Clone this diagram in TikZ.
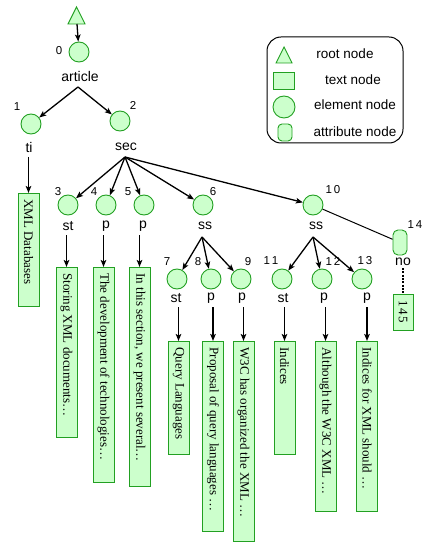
\documentclass[tikz,border=0pt]{standalone}
\usepackage{fontspec}
\setmainfont{Liberation Serif}
\setsansfont{Liberation Sans}
\usetikzlibrary{arrows.meta}
\definecolor{gfill}{RGB}{204,255,204}
\definecolor{gline}{RGB}{34,160,34}
% left-aligned text of a fixed length inside a text box
\newcommand\bxt[2]{\makebox[#1][l]{#2}}
\begin{document}
\begin{tikzpicture}[x=1pt,y=-1pt,
  shapebase/.style={draw=gline,fill=gfill,line width=0.9pt,inner sep=0pt},
  elem/.style={shapebase,circle,minimum size=20pt},
  attrn/.style={shapebase,rectangle,rounded corners=5pt,minimum width=14pt,minimum height=25pt},
  tbox/.style={shapebase,rectangle,rotate=-90,anchor=west,minimum height=21pt,
               inner xsep=6pt,font=\fontsize{13}{14}\selectfont},
  lbl/.style={font=\sffamily\fontsize{14}{16}\selectfont,inner sep=0pt},
  num/.style={font=\sffamily\fontsize{11.5}{13}\selectfont,inner sep=0pt},
  leg/.style={font=\sffamily\fontsize{13.5}{15}\selectfont,inner sep=0pt},
  arr/.style={-{Stealth[length=7pt,width=5.5pt,inset=1.5pt]},line width=1.3pt},
]
\useasboundingbox (0,0) rectangle (421,545);

% ---------- root ----------
\draw[shapebase] (68,24) -- (76.5,7) -- (85,24) -- cycle;
\coordinate (root) at (77,24);
\node[elem] (n0) at (79,52) {};
\node[num] (i0) at (59,51) {0};
\node[lbl] (t0) at (80,76) {article};
\coordinate (s0) at (78,87);
\draw[arr] (root) -- (n0);

% ---------- level 1 ----------
\node[elem] (n1) at (31,124) {};
\node[elem] (n2) at (120,121) {};
\node[num] (i1) at (17,107) {1};
\node[num] (i2) at (133,105) {2};
\node[lbl] (t1) at (29,147) {ti};
\node[lbl] (t2) at (126,147) {sec};
\draw[arr] (s0) -- (n1);
\draw[arr] (s0) -- (n2);
\node[tbox] (b1) at (28.5,193) {\bxt{101pt}{XML Databases}};
\coordinate (s1) at (28.5,157);
\draw[arr] (s1) -- (b1.west);
\coordinate (s2) at (125,157);

% ---------- level 2 ----------
\node[elem] (n3) at (68,205) {};
\node[elem] (n4) at (106,205) {};
\node[elem] (n5) at (144,205) {};
\node[elem] (n6) at (203,205) {};
\node[elem] (n10) at (313,205) {};
\node[num] (i3) at (58,192) {3};
\node[num] (i4) at (94,192) {4};
\node[num] (i5) at (128,192) {5};
\node[num] (i6) at (213,192) {6};
\node[num] (i10) at (333,190) {1\kern2pt0};
\node[lbl] (t3) at (68,226) {st};
\node[lbl] (t4) at (106,226) {p};
\node[lbl] (t5) at (143,226) {p};
\node[lbl] (t6) at (205,226) {ss};
\node[lbl] (t10) at (316,226) {ss};
\foreach \n in {n3,n4,n5,n6,n10} \draw[arr] (s2) -- (\n);

\node[tbox] (b3) at (66.5,267) {\bxt{158pt}{Storing XML documents…}};
\node[tbox] (b4) at (103.5,267) {\bxt{203pt}{The development of technologies…}};
\node[tbox] (b5) at (139.5,267) {\bxt{207pt}{In this section, we present several…}};
\coordinate (s3) at (66.5,235);
\coordinate (s4) at (103.5,235);
\coordinate (s5) at (139.5,235);
\draw[arr] (s3) -- (b3.west);
\draw[arr] (s4) -- (b4.west);
\draw[arr] (s5) -- (b5.west);

% ---------- attribute ----------
\node[attrn] (n14) at (400,242.5) {};
\node[num] (i14) at (415,225) {1\kern2pt4};
\node[lbl] (t14) at (403,262) {no};
\draw[line width=1pt] (n10) -- (n14);
\node[tbox,minimum height=20pt] (b14) at (403,294) {\bxt{24pt}{1\kern1.5pt4\kern1.5pt5}};
\coordinate (s14) at (403,268);
\draw[line width=1.3pt,dash pattern=on 2pt off 1.3pt] (s14) -- (b14.west);

% ---------- level 3 ----------
\coordinate (s6) at (202,237);
\coordinate (s10) at (313,237);
\node[elem] (n7) at (177,279) {};
\node[elem] (n8) at (211,279) {};
\node[elem] (n9) at (241,279) {};
\node[elem] (n11) at (282,279) {};
\node[elem] (n12) at (322,279) {};
\node[elem] (n13) at (362,279) {};
\node[num] (i7) at (167,262) {7};
\node[num] (i8) at (198,262) {8};
\node[num] (i9) at (248,262) {9};
\node[num] (i11) at (271,261) {1\kern2pt1};
\node[num] (i12) at (333,261) {1\kern2pt2};
\node[num] (i13) at (365,261) {1\kern2pt3};
\foreach \n in {n7,n8,n9} \draw[arr] (s6) -- (\n);
\foreach \n in {n11,n12,n13} \draw[arr] (s10) -- (\n);
\node[lbl] (t7) at (176,298) {st};
\node[lbl] (t8) at (211,298) {p};
\node[lbl] (t9) at (242,298) {p};
\node[lbl] (t11) at (283,298) {st};
\node[lbl] (t12) at (324,298) {p};
\node[lbl] (t13) at (367,298) {p};

\node[tbox] (b7) at (178.5,341) {\bxt{101pt}{Query Languages}};
\node[tbox] (b8) at (213,341) {\bxt{178pt}{Proposal of query languages …}};
\node[tbox] (b9) at (243.5,341) {\bxt{188pt}{W3C has organized the XML …}};
\node[tbox] (b11) at (284.5,341) {\bxt{101pt}{Indices}};
\node[tbox] (b12) at (325.5,341) {\bxt{158pt}{Although the W3C XML …}};
\node[tbox] (b13) at (367,341) {\bxt{158pt}{Indices for XML should …}};
\foreach \b/\x in {b7/178.5,b8/213,b9/243.5,b11/284.5,b12/325.5,b13/367}{
  \coordinate (s-\b) at (\x,307);
  \draw[arr] (s-\b) -- (\b.west);
}

% ---------- legend ----------
\draw[line width=1pt,rounded corners=14pt] (267,37) rectangle (403,143);
\draw[shapebase] (276,63) -- (284,47) -- (292,63) -- cycle;
\node[shapebase,rectangle,minimum width=21pt,minimum height=17pt] (ktext) at (283.5,80.5) {};
\node[shapebase,circle,minimum size=22pt] (kelem) at (284,107) {};
\node[shapebase,rectangle,rounded corners=4pt,minimum width=14pt,minimum height=17pt] (kattr) at (285,132.5) {};
\node[leg] (lroot) at (345,54) {root node};
\node[leg] (ltext) at (353,80) {text node};
\node[leg] (lelem) at (355,105) {element node};
\node[leg] (lattr) at (355,132) {attribute node};
\end{tikzpicture}
\end{document}
